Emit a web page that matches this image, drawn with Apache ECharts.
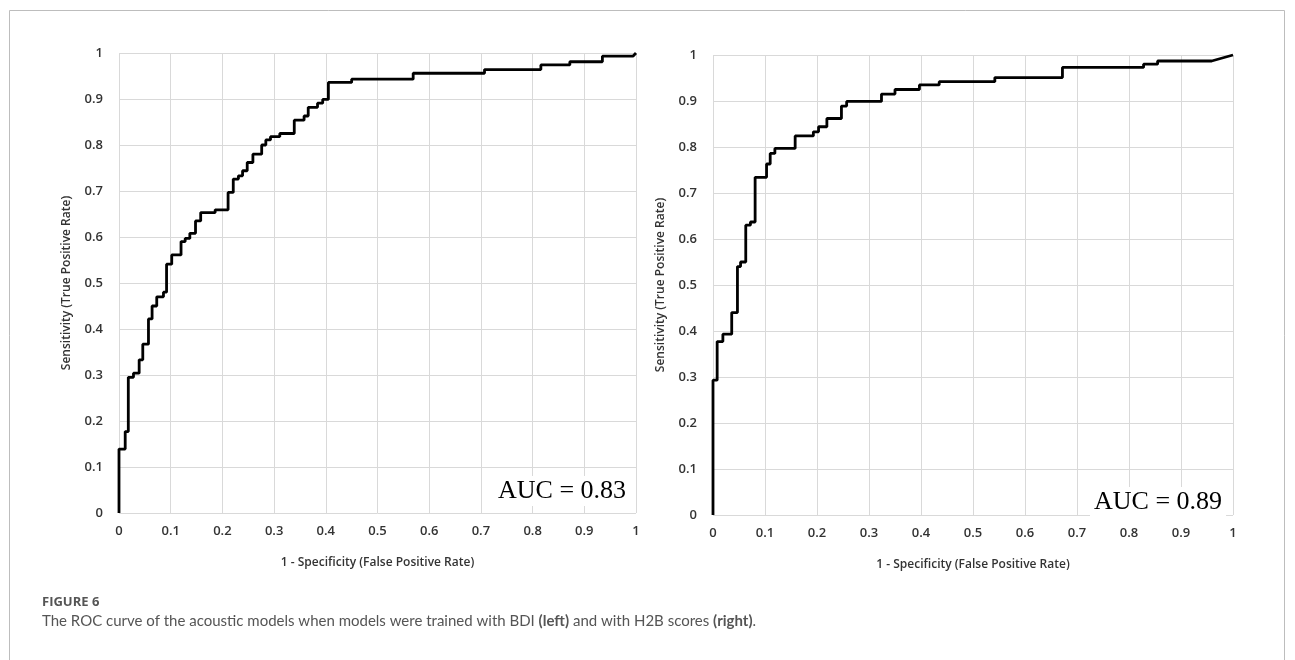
<!DOCTYPE html>
<html>
<head>
<meta charset="utf-8">
<script src="https://cdn.jsdelivr.net/npm/echarts@6/dist/echarts.min.js"></script>
<style>
html,body{margin:0;padding:0;background:#fff;}
#c{width:1295px;height:660px;}
</style>
</head>
<body>
<div id="c"></div>
<script>
// ---- data ----
const tickLabels = ['0','0.1','0.2','0.3','0.4','0.5','0.6','0.7','0.8','0.9','1'];

// Left panel (BDI): ROC step points (FPR where step occurs, TPR after step)
const leftFpr = [0,0,0.012,0.018,0.028,0.039,0.046,0.057,0.064,0.073,0.086,0.092,0.102,0.12,0.128,0.137,0.148,0.158,0.186,0.211,0.221,0.231,0.239,0.248,0.259,0.276,0.284,0.293,0.311,0.339,0.358,0.366,0.384,0.394,0.405,0.45,0.569,0.707,0.816,0.872,0.935];
const leftTpr = [0,0.139,0.177,0.295,0.304,0.333,0.367,0.422,0.45,0.47,0.48,0.541,0.561,0.59,0.597,0.608,0.635,0.653,0.659,0.697,0.726,0.733,0.744,0.762,0.78,0.8,0.811,0.818,0.825,0.854,0.863,0.882,0.891,0.899,0.936,0.943,0.956,0.964,0.974,0.981,0.993];
const leftTail = [[0.994,0.993],[1,1]];
const leftAuc = 'AUC = 0.83';

// Right panel (H2B)
const rightFpr = [0,0,0.008,0.019,0.036,0.047,0.053,0.063,0.072,0.081,0.103,0.11,0.119,0.158,0.193,0.203,0.219,0.247,0.257,0.324,0.35,0.397,0.435,0.542,0.672,0.828,0.855];
const rightTpr = [0,0.293,0.377,0.393,0.44,0.54,0.55,0.63,0.637,0.734,0.763,0.786,0.797,0.824,0.833,0.844,0.862,0.889,0.899,0.915,0.925,0.935,0.942,0.951,0.973,0.98,0.987];
const rightTail = [[0.959,0.987],[1,1]];
const rightAuc = 'AUC = 0.89';

const xName = '1 - Specificity (False Positive Rate)';
const yName = 'Sensitivity (True Positive Rate)';
const figLabel = 'FIGURE 6';
const captionParts = ['The ROC curve of the acoustic models when models were trained with BDI ', '(left)', ' and with H2B scores ', '(right)', '.'];

// ---- build staircase ----
function staircase(fpr, tpr, tail){
  const pts = [[fpr[0], tpr[0]]];
  for (let i = 1; i < fpr.length; i++){
    pts.push([fpr[i], tpr[i-1]]);
    pts.push([fpr[i], tpr[i]]);
  }
  tail.forEach(p => pts.push(p));
  return pts;
}

const chart = echarts.init(document.getElementById('c'), null, {renderer:'canvas'});
const labelFont = {fontFamily:'Open Sans', fontSize:13, color:'#333', fontWeight:600};
const nameFont = {fontFamily:'Open Sans', fontSize:12, color:'#333', fontWeight:600};
const fmt = v => tickLabels[Math.round(v*10)];

function xAx(gi){
  return {type:'value', gridIndex:gi, min:0, max:1, interval:0.1,
    axisLine:{show:false}, axisTick:{show:false},
    splitLine:{show:true, lineStyle:{color:'#d9d9d9', width:1}},
    axisLabel:Object.assign({margin:12, formatter:fmt}, labelFont),
    name:xName, nameLocation:'middle', nameGap:44, nameTextStyle:nameFont};
}
function yAx(gi){
  return {type:'value', gridIndex:gi, min:0, max:1, interval:0.1,
    axisLine:{show:false}, axisTick:{show:false},
    splitLine:{show:true, lineStyle:{color:'#d9d9d9', width:1}},
    axisLabel:Object.assign({margin:16, formatter:fmt}, labelFont),
    name:yName, nameLocation:'middle', nameGap:46, nameRotate:90, nameTextStyle:nameFont};
}

const captionText = captionParts.map((p,i)=> (i===1||i===3) ? '{b|'+p+'}' : p).join('');
const aucFont = '26px "Liberation Serif", "Times New Roman", serif';

chart.setOption({
  backgroundColor:'#fff',
  animation:false,
  grid:[
    {left:119, top:53, width:517, height:460},
    {left:713, top:55, width:520, height:460}
  ],
  xAxis:[xAx(0), xAx(1)],
  yAxis:[yAx(0), yAx(1)],
  series:[
    {type:'line', xAxisIndex:0, yAxisIndex:0, data:staircase(leftFpr,leftTpr,leftTail),
      symbol:'none', lineStyle:{color:'#000', width:2.8}, clip:false},
    {type:'line', xAxisIndex:1, yAxisIndex:1, data:staircase(rightFpr,rightTpr,rightTail),
      symbol:'none', lineStyle:{color:'#000', width:2.8}, clip:false}
  ],
  graphic:[
    {type:'rect', shape:{x:9.5, y:10.5, width:1275, height:700}, style:{fill:null, stroke:'#bdbdbd', lineWidth:1}, silent:true},
    {type:'text', left:494, top:476, z:10, style:{text:leftAuc, font:aucFont, fill:'#000', backgroundColor:'#fff', padding:[2,4,2,4]}},
    {type:'text', left:1090, top:487, z:10, style:{text:rightAuc, font:aucFont, fill:'#000', backgroundColor:'#fff', padding:[2,4,2,4]}},
    {type:'text', left:42, top:596, style:{text:figLabel, font:'bold 13px "Open Sans", sans-serif', fill:'#555'}},
    {type:'text', left:42, top:614, style:{text:captionText, font:'15px Lato, sans-serif', fill:'#555',
      rich:{b:{fontWeight:'bold', fontFamily:'Lato', fontSize:15, fill:'#555', color:'#555'}}}}
  ]
});
</script>
</body>
</html>
